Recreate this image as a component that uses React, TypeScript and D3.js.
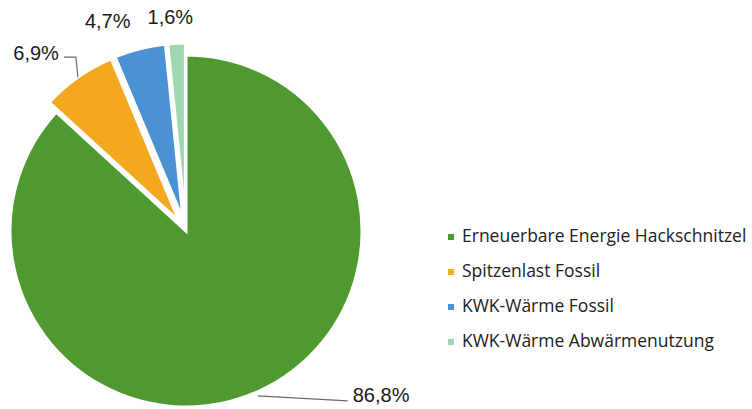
import React from "react";
import * as d3 from "d3";

const categories = [
  "Erneuerbare Energie Hackschnitzel",
  "Spitzenlast Fossil",
  "KWK-Wärme Fossil",
  "KWK-Wärme Abwärmenutzung",
];
const values = [86.8, 6.9, 4.7, 1.6];
const valueLabels = ["86,8%", "6,9%", "4,7%", "1,6%"];
const colors = ["#4f9a30", "#f4a820", "#4a92d4", "#9fd8b0"];

const W = 752;
const H = 409;
const cx = 186;
const cy = 231;
const R = 176;
const explode = [0, 12, 12, 12];

export default function App() {
  const pie = d3.pie<number>().sort(null).startAngle(0).endAngle(2 * Math.PI)(values);
  const arc = d3.arc<d3.PieArcDatum<number>>().innerRadius(0).outerRadius(R);

  const mid = (d: d3.PieArcDatum<number>) => (d.startAngle + d.endAngle) / 2;
  const pt = (a: number, r: number): [number, number] => [Math.sin(a) * r, -Math.cos(a) * r];

  const g0 = pie[0];
  const p0 = pt(mid(g0), R + 2);
  const g1 = pie[1];
  const p1 = pt(mid(g1), R + explode[1]);
  const l2 = pt(mid(pie[2]), 213);
  const l3 = pt(mid(pie[3]), 213);

  const labelFont = "Liberation Sans, Arial, sans-serif";

  return (
    <svg width={W} height={H} style={{ display: "block", position: "absolute", left: 0, top: 0, background: "#fff" }}>
      <rect width={W} height={H} fill="#fff" />
      <g transform={`translate(${cx},${cy})`}>
        {pie.map((d, i) => {
          const [ox, oy] = pt(mid(d), explode[i]);
          return (
            <path
              key={i}
              d={arc(d) || ""}
              transform={`translate(${ox},${oy})`}
              fill={colors[i]}
              stroke="#fff"
              strokeWidth={3}
              strokeLinejoin="miter"
            />
          );
        })}
        <polyline
          points={`${p0[0]},${p0[1] + 2} ${p0[0] + 90},${p0[1] + 7}`}
          fill="none"
          stroke="#6a6a6a"
          strokeWidth={1.2}
        />
        <text x={p0[0] + 95} y={p0[1] + 3} fontFamily={labelFont} fontSize={20} fill="#1a1a1a" dominantBaseline="middle">
          {valueLabels[0]}
        </text>
        <polyline
          points={`${p1[0]},${p1[1]} ${p1[0] - 2},${p1[1] - 20} ${p1[0] - 14},${p1[1] - 20}`}
          fill="none"
          stroke="#6a6a6a"
          strokeWidth={1.2}
        />
        <text x={p1[0] - 19} y={p1[1] - 22} fontFamily={labelFont} fontSize={20} fill="#1a1a1a" textAnchor="end" dominantBaseline="middle">
          {valueLabels[1]}
        </text>
        <text x={l2[0] - 26} y={l2[1] - 2} fontFamily={labelFont} fontSize={20} fill="#1a1a1a" textAnchor="middle" dominantBaseline="middle">
          {valueLabels[2]}
        </text>
        <text x={l3[0] - 5} y={l3[1]} fontFamily={labelFont} fontSize={20} fill="#1a1a1a" textAnchor="middle" dominantBaseline="middle">
          {valueLabels[3]}
        </text>
      </g>
      <g transform="translate(448,237)">
        {categories.map((c, i) => (
          <g key={c} transform={`translate(0,${i * 35})`}>
            <rect x={0} y={-3} width={6} height={6} fill={colors[i]} />
            <text x={14} y={0} fontFamily="Open Sans, sans-serif" fontSize={17.5} fill="#222" dominantBaseline="middle">
              {c}
            </text>
          </g>
        ))}
      </g>
    </svg>
  );
}
